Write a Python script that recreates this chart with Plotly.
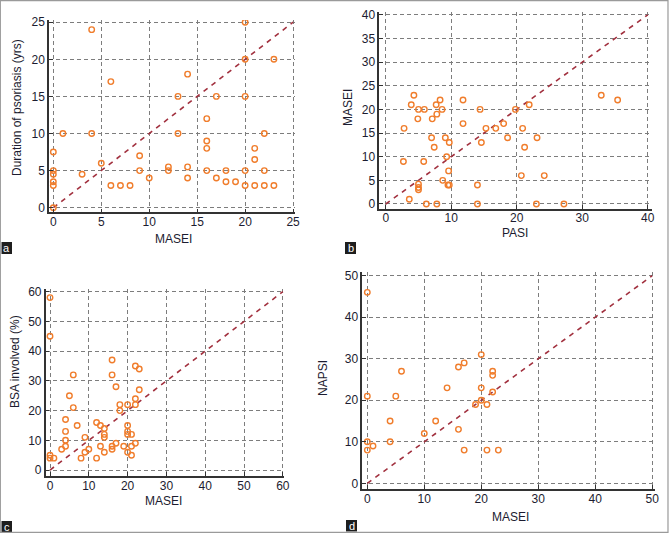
import plotly.graph_objects as go

W, H = 669, 533

# ---- Panel a: MASEI vs Duration of psoriasis (yrs)
a_masei = [4, 20, 20, 23, 6, 14, 13, 17, 20, 16, 1, 4, 13, 22, 16, 16, 21, 21, 0, 9, 5,
           0, 0, 3, 9, 10, 12, 12, 14, 14, 16, 17, 18, 18, 19, 20, 20, 21, 22, 22, 23,
           6, 7, 8, 0, 0, 0]
a_duration = [24, 25, 20, 20, 17, 18, 15, 15, 15, 12, 10, 10, 10, 10, 9, 8, 8, 6.5, 7.5, 7, 6,
              5, 4.5, 4.5, 5, 4, 5.5, 5, 5.5, 4, 5, 4, 5, 3.5, 3.5, 5, 3, 3, 5, 3, 3,
              3, 3, 3, 3.5, 3, 0]

# ---- Panel b: PASI vs MASEI
b_pasi = [4.3, 3.9, 5.0, 5.9, 4.9, 2.8, 7.1, 7.7, 8.3, 8.6, 7.8, 11.8, 11.8, 14.4, 7.0, 9.1,
          7.4, 9.7, 14.6, 15.3, 16.8, 18.0, 19.8, 21.9, 20.9, 18.6, 21.2, 23.1, 32.9, 35.4,
          2.7, 5.8, 9.3, 9.6, 8.7, 9.5, 9.7, 5.0, 5.0, 5.0, 3.6, 20.7, 24.2, 14.0,
          6.2, 7.8, 14.0, 23.0, 27.2]
b_masei = [23, 21, 20, 20, 18, 16, 18, 21, 22, 20, 19, 22, 17, 20, 14, 14,
           12, 13, 13, 16, 16, 17, 20, 21, 16, 14, 12, 14, 23, 22,
           9, 9, 10, 7, 5, 4, 4, 4.2, 3.5, 3, 1, 6, 6, 4,
           0, 0, 0, 0, 0]

# ---- Panel c: MASEI vs BSA involved (%)
c_masei = [0, 0, 0, 0, 1, 3, 4, 4, 4, 4, 5, 6, 6, 7, 8, 9, 9, 10, 12, 12, 13, 13, 14, 14,
           14, 14, 16, 16, 16, 16, 17, 17, 18, 18, 19, 20, 20, 20, 20, 20, 21, 21, 21,
           22, 22, 22, 22, 23, 23]
c_bsa = [58, 45, 5, 4, 4, 7, 8, 10, 13, 17, 25, 32, 21, 15, 4, 11, 6, 7, 16, 4, 15, 8, 14, 12,
         11, 6, 37, 32, 8, 7, 28, 9, 22, 20, 8, 22, 15, 13, 12, 6, 12, 5, 8,
         35, 24, 22, 9, 34, 27]

# ---- Panel d: MASEI vs NAPSI
d_masei = [0, 0, 0, 0, 1, 4, 4, 5, 6, 10, 12, 14, 16, 16, 17, 17, 19, 20, 20, 20, 21, 21,
           22, 22, 22, 23]
d_napsi = [46, 21, 10, 8, 9, 15, 10, 21, 27, 12, 15, 23, 28, 13, 29, 8, 19, 31, 23, 20, 19, 8,
           27, 26, 22, 8]

# identity lines
id_a = [0, 25]
id_b = [0, 40]
id_c = [0, 60]
id_d = [0, 50]

ORANGE = "#f07d2c"
DIAG = "#a2313f"
GRID = "#7d7d7d"
AXIS = "#333333"
TXT = "#1c1c30"
FONT = "Liberation Sans, Arial, sans-serif"

fig = go.Figure()

panels = [
    ("x", "y", a_masei, a_duration, id_a),
    ("x2", "y2", b_pasi, b_masei, id_b),
    ("x3", "y3", c_masei, c_bsa, id_c),
    ("x4", "y4", d_masei, d_napsi, id_d),
]
for xa, ya, xs, ys, idl in panels:
    fig.add_trace(go.Scatter(x=idl, y=idl, xaxis=xa, yaxis=ya, mode="lines",
                             line=dict(color=DIAG, width=1.6, dash="5px,5px"),
                             hoverinfo="skip", showlegend=False))
    fig.add_trace(go.Scatter(x=xs, y=ys, xaxis=xa, yaxis=ya, mode="markers",
                             marker=dict(symbol="circle-open", size=5.5,
                                         line=dict(color=ORANGE, width=1.4), color=ORANGE),
                             showlegend=False))


def px_x(p):
    return p / W


def px_y(p):
    return 1 - p / H


def axis(domain, rng, dtick, anchor, standoff=None):
    d = dict(domain=domain, range=rng, dtick=dtick, anchor=anchor,
             showgrid=True, gridcolor=GRID, griddash="4px,3px", gridwidth=1,
             zeroline=False, showline=True, linecolor=AXIS, linewidth=1.5,
             mirror=False, ticks="inside", ticklen=4, tickcolor=AXIS,
             tickfont=dict(family=FONT, size=12, color=TXT))
    if standoff is not None:
        d["ticklabelstandoff"] = standoff
    return d


layout = dict(
    width=W, height=H, margin=dict(l=0, r=0, t=0, b=0, autoexpand=False),
    autosize=False,
    paper_bgcolor="white", plot_bgcolor="white", showlegend=False,
    font=dict(family=FONT, color=TXT),
    xaxis=axis([px_x(49), px_x(295)], [-0.45, 25.2], 5, "y", -2),
    yaxis=axis([px_y(212.3), px_y(20)], [-0.62, 25.3], 5, "x"),
    xaxis2=axis([px_x(379.3), px_x(651.7)], [-0.98, 40.6], 10, "y2", -3),
    yaxis2=axis([px_y(209), px_y(12)], [-1.06, 40.6], 5, "x2"),
    xaxis3=axis([px_x(45.7), px_x(284)], [-1.11, 60.3], 10, "y3", -2),
    yaxis3=axis([px_y(476), px_y(289)], [-2.0, 60.9], 10, "x3"),
    xaxis4=axis([px_x(362.3), px_x(655)], [-0.88, 50.5], 10, "y4", -2),
    yaxis4=axis([px_y(489), px_y(272)], [-1.37, 50.9], 10, "x4"),
)
fig.update_layout(**layout)

titles = [
    ("Duration of psoriasis (yrs)", 17, 108, -90),
    ("MASEI", 173, 239, 0),
    ("MASEI", 348, 107, -90),
    ("PASI", 515, 232.5, 0),
    ("BSA involved (%)", 15, 362, -90),
    ("MASEI", 163, 501, 0),
    ("NAPSI", 323, 378, -90),
    ("MASEI", 510, 517, 0),
]
for text, x, y, ang in titles:
    fig.add_annotation(text=text, x=px_x(x), y=px_y(y), xref="paper", yref="paper",
                       showarrow=False, textangle=ang, xanchor="center", yanchor="middle",
                       font=dict(family=FONT, size=12, color=TXT))

labels = [("a", 1.5, 242, 12, 254), ("b", 345, 242, 356, 254),
          ("c", 1.5, 521, 12, 532), ("d", 346, 520, 357, 531.5)]
for t, x0, y0, x1, y1 in labels:
    fig.add_shape(type="rect", xref="paper", yref="paper",
                  x0=px_x(x0), x1=px_x(x1), y0=px_y(y1), y1=px_y(y0),
                  fillcolor="#1e1e1e", line=dict(width=0), layer="above")
    fig.add_annotation(text=t, x=px_x((x0 + x1) / 2), y=px_y((y0 + y1) / 2),
                       xref="paper", yref="paper", showarrow=False,
                       xanchor="center", yanchor="middle",
                       font=dict(family=FONT, size=11, color="white"))

# outer frame
fig.add_shape(type="rect", xref="paper", yref="paper", x0=0.0005, x1=0.9985, y0=0.001, y1=0.999,
              line=dict(color="#9a9a9a", width=1.2), fillcolor="rgba(0,0,0,0)")

fig.write_html(
    "out.html",
    config={"responsive": False, "displayModeBar": False},
    post_script="document.body.style.margin='0';document.body.style.padding='0';"
                "document.body.style.overflow='hidden';",
)
